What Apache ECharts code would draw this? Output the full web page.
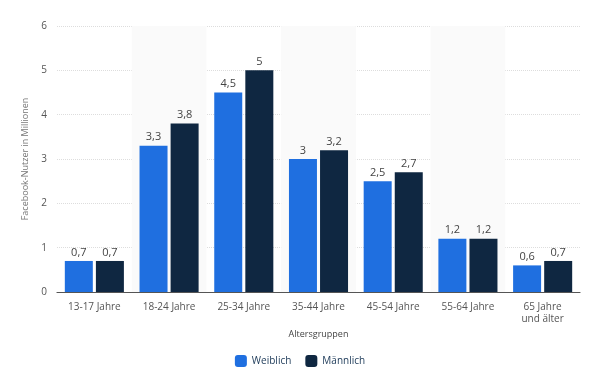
<!DOCTYPE html>
<html>
<head>
<meta charset="utf-8">
<script src="https://cdn.jsdelivr.net/npm/echarts@6/dist/echarts.min.js"></script>
<style>
  html, body { margin: 0; padding: 0; background: #fff; }
  #chart { width: 600px; height: 377px; }
</style>
</head>
<body>
<div id="chart"></div>
<script>
const categories = ['13-17 Jahre', '18-24 Jahre', '25-34 Jahre', '35-44 Jahre', '45-54 Jahre', '55-64 Jahre', '65 Jahre\nund älter']
const weiblich = [0.7, 3.3, 4.5, 3, 2.5, 1.2, 0.6]
const maennlich = [0.7, 3.8, 5, 3.2, 2.7, 1.2, 0.7]
const yTicks = [0, 1, 2, 3, 4, 5, 6]

const chart = echarts.init(document.getElementById('chart'))

const label = {
  show: true,
  position: 'top',
  distance: 3,
  color: '#444',
  fontSize: 11,
  fontFamily: 'Open Sans',
  formatter: p => String(p.value).replace('.', ',')
}

chart.setOption({
  animation: false,
  textStyle: { fontFamily: 'Open Sans' },
  grid: { left: 57, right: 20, top: 26, bottom: 85 },
  legend: {
    bottom: 5,
    left: 'center',
    icon: 'roundRect',
    itemWidth: 12,
    itemHeight: 12,
    itemGap: 14,
    textStyle: { color: '#24405e', fontSize: 10 },
    data: ['Weiblich', 'Männlich']
  },
  xAxis: {
    type: 'category',
    data: categories,
    name: 'Altersgruppen',
    nameLocation: 'middle',
    nameGap: 30,
    nameTextStyle: { color: '#444', fontSize: 9 },
    axisLine: { lineStyle: { color: '#555', width: 1.2 } },
    axisTick: { show: false },
    axisLabel: { color: '#555', fontSize: 10, margin: 9, lineHeight: 12 },
    splitArea: { show: true, areaStyle: { color: ['rgba(0,0,0,0)', '#fafafa'] } }
  },
  yAxis: {
    type: 'value',
    min: 0,
    max: yTicks[yTicks.length - 1],
    interval: 1,
    name: 'Facebook-Nutzer in Millionen',
    nameLocation: 'middle',
    nameGap: 22,
    nameTextStyle: { color: '#777', fontSize: 9 },
    axisLine: { show: false },
    axisTick: { show: false },
    axisLabel: { color: '#555', fontSize: 10, margin: 10 },
    splitLine: { lineStyle: { color: '#ddd', type: 'dotted' } }
  },
  series: [
    {
      name: 'Weiblich',
      type: 'bar',
      data: weiblich,
      barWidth: 28,
      barGap: '11%',
      itemStyle: { color: '#1f6fe0' },
      label: label
    },
    {
      name: 'Männlich',
      type: 'bar',
      data: maennlich,
      barWidth: 28,
      itemStyle: { color: '#0f2741' },
      label: label
    }
  ]
})
</script>
</body>
</html>
